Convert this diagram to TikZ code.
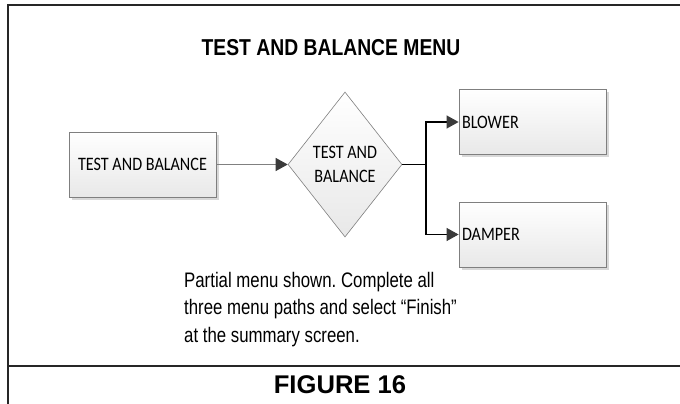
\documentclass[tikz,border=0pt]{standalone}
\usepackage{fontspec}
\setmainfont{Liberation Sans}
\newfontfamily\narrowfont[FakeStretch=0.80]{Liberation Sans}
\newfontfamily\titlefont[FakeStretch=0.84]{Liberation Sans Bold}
\newfontfamily\figfont{Liberation Sans Bold}
\newfontfamily\boxfont[FakeStretch=0.85]{Carlito}
\usetikzlibrary{shapes.geometric,arrows.meta,shadows}
\definecolor{framec}{HTML}{262626}
\definecolor{boxline}{HTML}{7F7F7F}
\definecolor{tipc}{HTML}{3A3A3A}
\tikzset{
  menubox/.style={rectangle, draw=boxline, line width=0.8pt, top color=white, bottom color=black!9,
    minimum width=147pt, minimum height=65pt, inner sep=3pt,
    drop shadow={shadow xshift=2.5pt, shadow yshift=-2.5pt, fill=black!30, opacity=0.5},
    font=\boxfont\fontsize{19}{24}\selectfont},
  menudia/.style={diamond, draw=boxline, line width=0.6pt, top color=white, bottom color=black!9,
    minimum width=114pt, minimum height=145pt, inner sep=0pt, align=center,
    font=\boxfont\fontsize{19}{24.5}\selectfont},
  grayarrow/.style={draw=black!50, line width=1pt, -{Triangle[length=12pt,width=13pt,fill=tipc,color=tipc]}},
  blackline/.style={draw=black, line width=1.1pt},
  blackarrow/.style={blackline, -{Triangle[length=12pt,width=13pt,fill=tipc,color=tipc]}},
  frameline/.style={draw=framec, line width=2.2pt},
}
\begin{document}
\frenchspacing
\begin{tikzpicture}[x=1pt,y=-1pt]
\useasboundingbox (0,0) rectangle (680,404);
% frame
\coordinate (f1) at (8,404);
\coordinate (f2) at (8,5);
\coordinate (f3) at (681,5);
\coordinate (g1) at (7,366);
\coordinate (g2) at (681,366);
\draw[frameline] (f1) -- (f2) -- (f3);
\draw[frameline] (g1) -- (g2);
% title
\node[font=\titlefont\fontsize{23}{26}\selectfont] (title) at (331,48) {TEST AND BALANCE MENU};
% boxes
\node[menubox] (tb) at (142.5,164.5) {TEST AND BALANCE};
\node[menudia] (d) at (345,164.5) {TEST AND\\[0pt]BALANCE};
\node[menubox, text width=141pt, align=left] (bl) at (532.5,122) {BLOWER};
\node[menubox, text width=141pt, align=left] (dm) at (532.5,234.5) {DAMPER};
% connectors
\coordinate (j) at (426,164.5);
\draw[grayarrow] (tb.east) -- (d.west);
\draw[blackline] (d.east) -- (j);
\draw[blackarrow] (j) |- (bl.west);
\draw[blackarrow] (j) |- (dm.west);
% note
\node[anchor=north west, align=left, inner sep=0pt, font=\narrowfont\fontsize{21}{27.5}\selectfont] (note) at (184,272)
  {Partial menu shown. Complete all\\three menu paths and select “Finish”\\at the summary screen.};
% figure caption
\node[font=\figfont\fontsize{25.6}{28}\selectfont] (fig) at (340,385) {FIGURE 16};
\end{tikzpicture}
\end{document}
